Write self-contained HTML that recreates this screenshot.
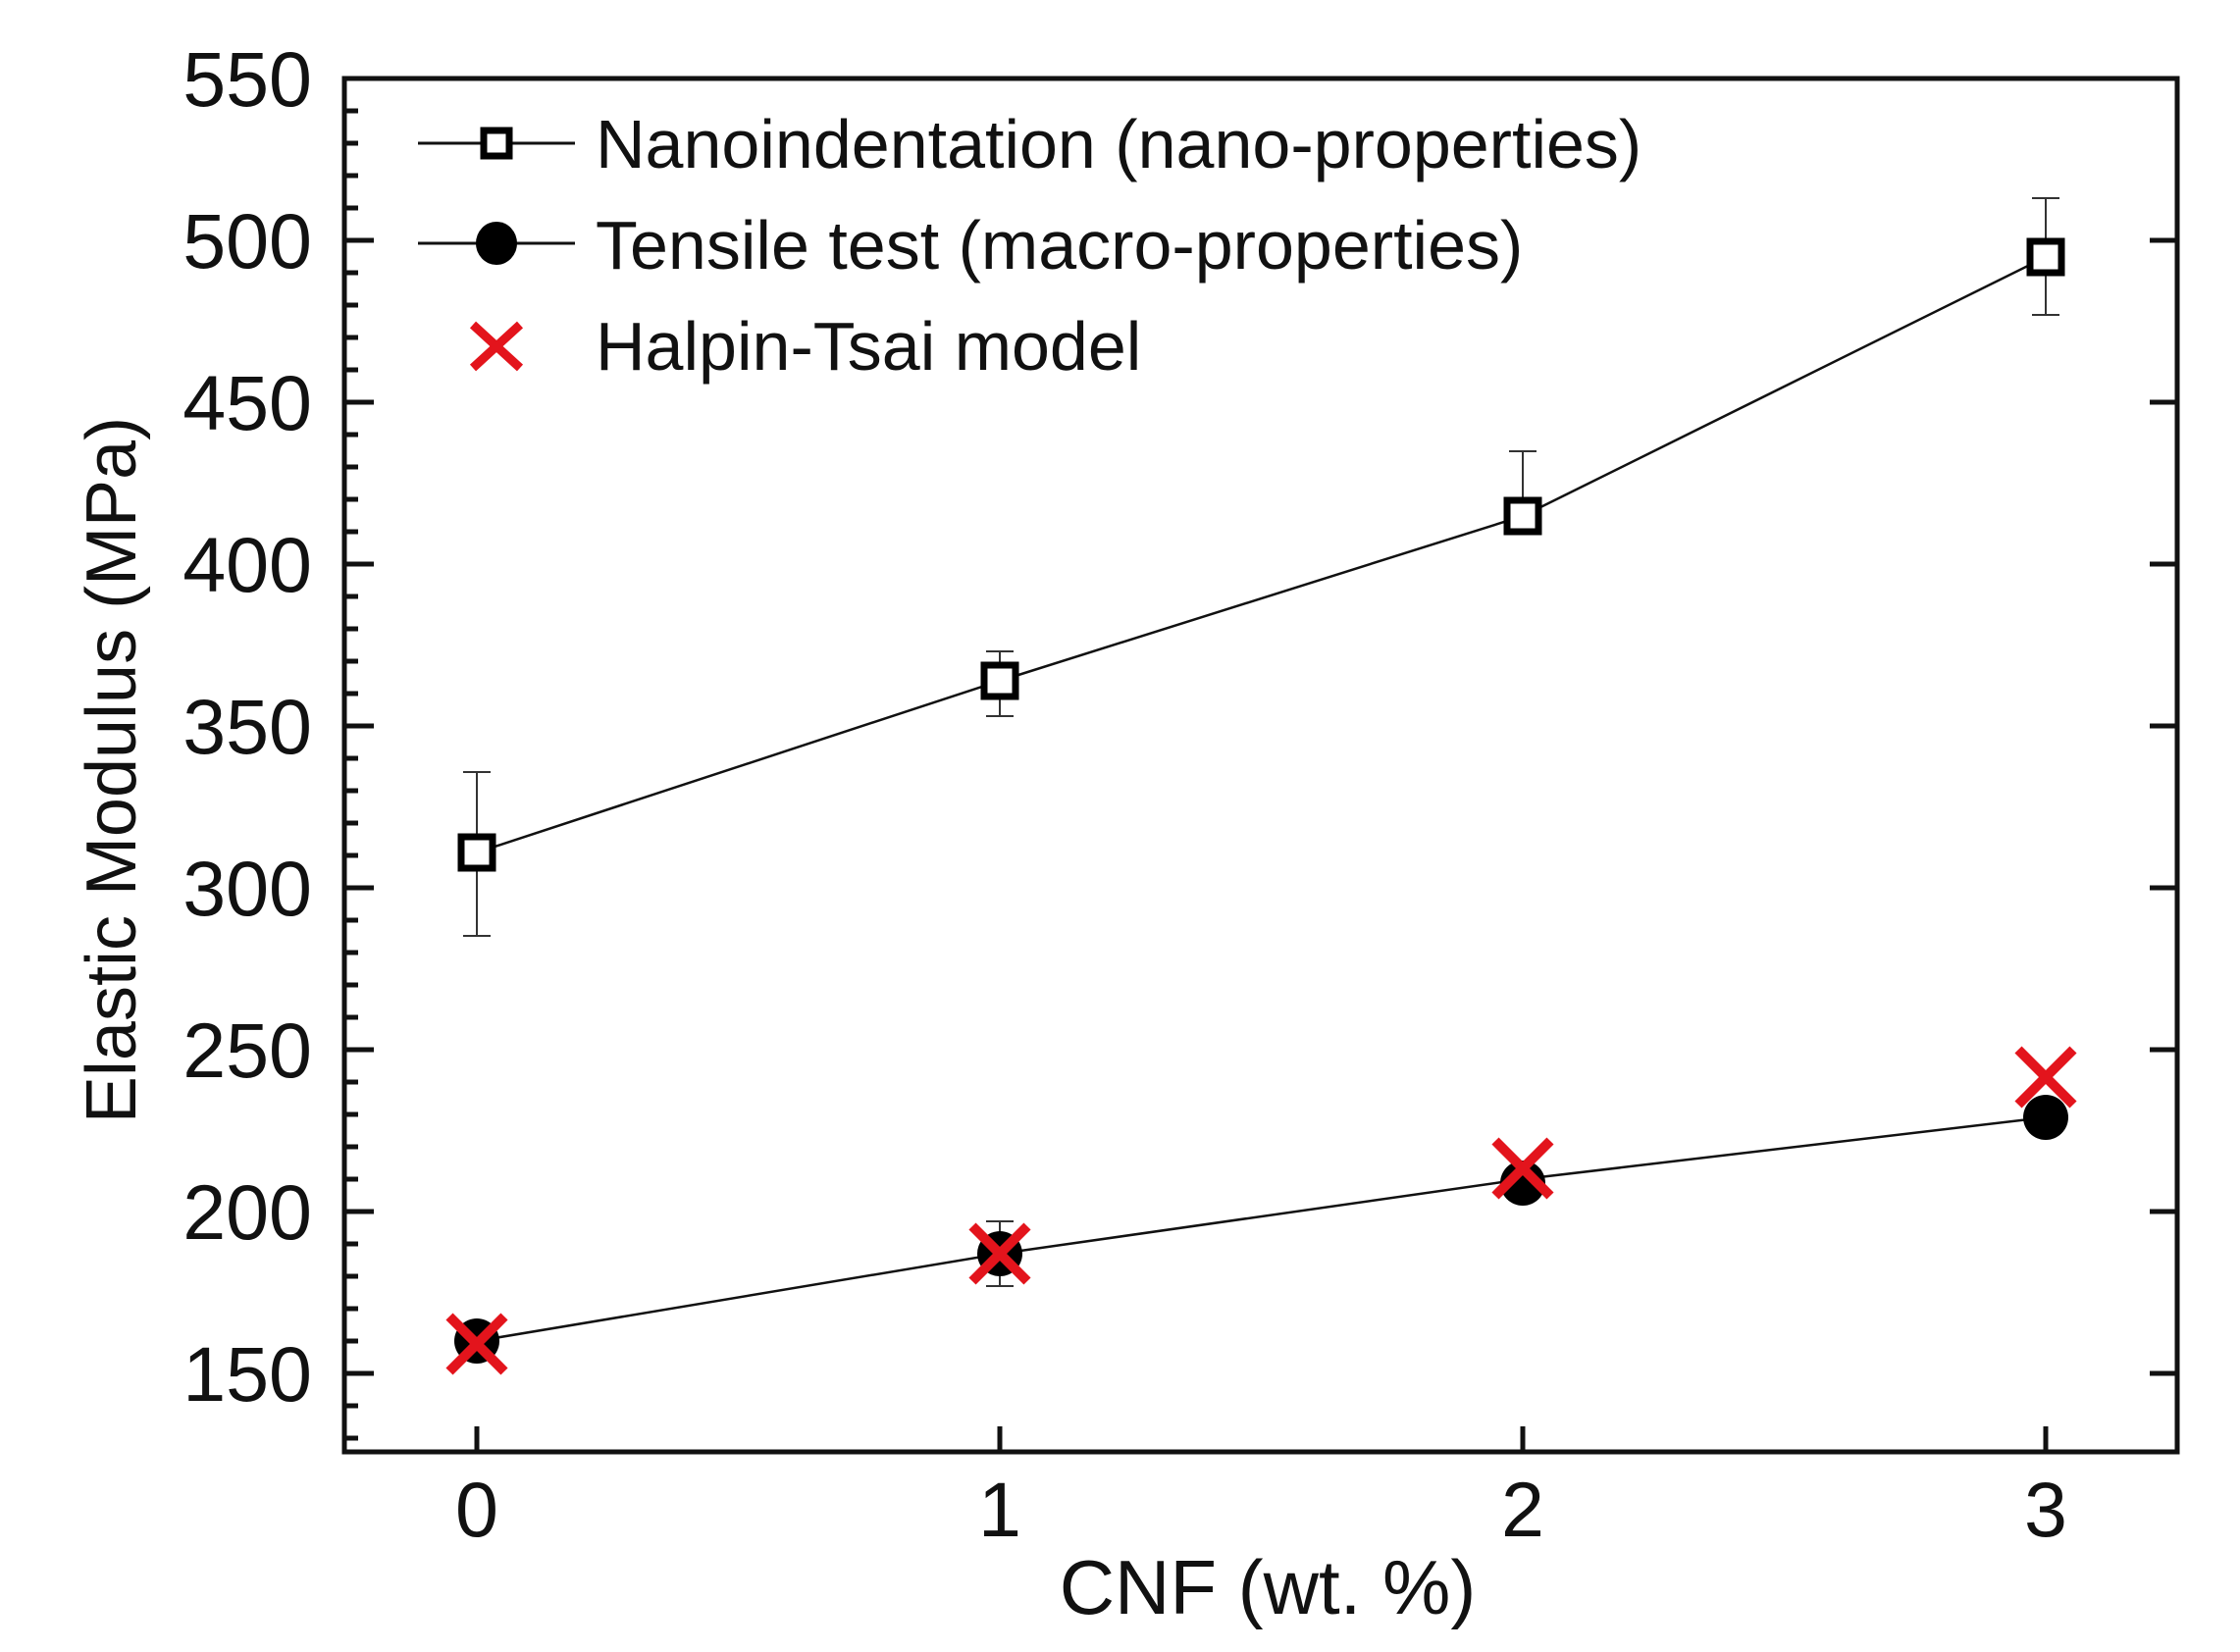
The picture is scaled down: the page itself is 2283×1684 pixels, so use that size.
<!DOCTYPE html>
<html><head><meta charset="utf-8"><style>
html,body{margin:0;padding:0;background:#fff;}
svg{display:block;}
text{font-family:"Liberation Sans",Arial,sans-serif;fill:#111;}
</style></head><body>
<svg width="2283" height="1684" viewBox="0 0 2283 1684" xmlns="http://www.w3.org/2000/svg">
<g stroke="#111" stroke-width="5" fill="none">
<rect x="351" y="80" width="1868" height="1400"/>
</g>
<g stroke="#111" stroke-width="5">
<line x1="351" y1="80" x2="381" y2="80"/>
<line x1="351" y1="245" x2="381" y2="245"/><line x1="2219" y1="245" x2="2191" y2="245"/>
<line x1="351" y1="410" x2="381" y2="410"/><line x1="2219" y1="410" x2="2191" y2="410"/>
<line x1="351" y1="575" x2="381" y2="575"/><line x1="2219" y1="575" x2="2191" y2="575"/>
<line x1="351" y1="740" x2="381" y2="740"/><line x1="2219" y1="740" x2="2191" y2="740"/>
<line x1="351" y1="905" x2="381" y2="905"/><line x1="2219" y1="905" x2="2191" y2="905"/>
<line x1="351" y1="1070" x2="381" y2="1070"/><line x1="2219" y1="1070" x2="2191" y2="1070"/>
<line x1="351" y1="1235" x2="381" y2="1235"/><line x1="2219" y1="1235" x2="2191" y2="1235"/>
<line x1="351" y1="1400" x2="381" y2="1400"/><line x1="2219" y1="1400" x2="2191" y2="1400"/>
<line x1="486" y1="1480" x2="486" y2="1454"/>
<line x1="1019" y1="1480" x2="1019" y2="1454"/>
<line x1="1552" y1="1480" x2="1552" y2="1454"/>
<line x1="2085" y1="1480" x2="2085" y2="1454"/>
</g>
<g stroke="#111" stroke-width="5">
<line x1="351" y1="113" x2="365" y2="113"/><line x1="351" y1="146" x2="365" y2="146"/><line x1="351" y1="179" x2="365" y2="179"/><line x1="351" y1="212" x2="365" y2="212"/>
<line x1="351" y1="278" x2="365" y2="278"/><line x1="351" y1="311" x2="365" y2="311"/><line x1="351" y1="344" x2="365" y2="344"/><line x1="351" y1="377" x2="365" y2="377"/>
<line x1="351" y1="443" x2="365" y2="443"/><line x1="351" y1="476" x2="365" y2="476"/><line x1="351" y1="509" x2="365" y2="509"/><line x1="351" y1="542" x2="365" y2="542"/>
<line x1="351" y1="608" x2="365" y2="608"/><line x1="351" y1="641" x2="365" y2="641"/><line x1="351" y1="674" x2="365" y2="674"/><line x1="351" y1="707" x2="365" y2="707"/>
<line x1="351" y1="773" x2="365" y2="773"/><line x1="351" y1="806" x2="365" y2="806"/><line x1="351" y1="839" x2="365" y2="839"/><line x1="351" y1="872" x2="365" y2="872"/>
<line x1="351" y1="938" x2="365" y2="938"/><line x1="351" y1="971" x2="365" y2="971"/><line x1="351" y1="1004" x2="365" y2="1004"/><line x1="351" y1="1037" x2="365" y2="1037"/>
<line x1="351" y1="1103" x2="365" y2="1103"/><line x1="351" y1="1136" x2="365" y2="1136"/><line x1="351" y1="1169" x2="365" y2="1169"/><line x1="351" y1="1202" x2="365" y2="1202"/>
<line x1="351" y1="1268" x2="365" y2="1268"/><line x1="351" y1="1301" x2="365" y2="1301"/><line x1="351" y1="1334" x2="365" y2="1334"/><line x1="351" y1="1367" x2="365" y2="1367"/>
<line x1="351" y1="1433" x2="365" y2="1433"/><line x1="351" y1="1466" x2="365" y2="1466"/>
</g>
<g font-size="79" text-anchor="end">
<text x="318" y="108">550</text>
<text x="318" y="273">500</text>
<text x="318" y="438">450</text>
<text x="318" y="603">400</text>
<text x="318" y="768">350</text>
<text x="318" y="933">300</text>
<text x="318" y="1098">250</text>
<text x="318" y="1263">200</text>
<text x="318" y="1428">150</text>
</g>
<g font-size="79" text-anchor="middle">
<text x="486" y="1566">0</text>
<text x="1019" y="1566">1</text>
<text x="1552" y="1566">2</text>
<text x="2085" y="1566">3</text>
<text x="1292" y="1645" font-size="78">CNF (wt. %)</text>
<text transform="translate(138,785) rotate(-90)" font-size="72">Elastic Modulus (MPa)</text>
</g>
<g stroke="#333" stroke-width="2">
<line x1="486" y1="787" x2="486" y2="954"/><line x1="472" y1="787" x2="500" y2="787"/><line x1="472" y1="954" x2="500" y2="954"/>
<line x1="1019" y1="664" x2="1019" y2="730"/><line x1="1005" y1="664" x2="1033" y2="664"/><line x1="1005" y1="730" x2="1033" y2="730"/>
<line x1="1552" y1="460" x2="1552" y2="529"/><line x1="1538" y1="460" x2="1566" y2="460"/><line x1="1538" y1="529" x2="1566" y2="529"/>
<line x1="2085" y1="202" x2="2085" y2="321"/><line x1="2071" y1="202" x2="2099" y2="202"/><line x1="2071" y1="321" x2="2099" y2="321"/>
<line x1="1019" y1="1245" x2="1019" y2="1311"/><line x1="1005" y1="1245" x2="1033" y2="1245"/><line x1="1005" y1="1311" x2="1033" y2="1311"/>
</g>
<polyline points="486,869 1019,694 1552,526 2085,262" fill="none" stroke="#111" stroke-width="2.5"/>
<polyline points="486,1367 1019,1278 1552,1202 2085,1139" fill="none" stroke="#111" stroke-width="2.5"/>
<g fill="#fff" stroke="#000" stroke-width="7">
<rect x="470" y="853" width="32" height="32"/>
<rect x="1003" y="678" width="32" height="32"/>
<rect x="1536" y="510" width="32" height="32"/>
<rect x="2069" y="246" width="32" height="32"/>
</g>
<g fill="#000">
<circle cx="486" cy="1367" r="23"/>
<circle cx="1019" cy="1278" r="23"/>
<circle cx="1552" cy="1206" r="23"/>
<circle cx="2085" cy="1139" r="23"/>
</g>
<g stroke="#e3141c" stroke-width="10">
<path d="M458,1342 L514,1398 M514,1342 L458,1398"/>
<path d="M991,1250 L1047,1306 M1047,1250 L991,1306"/>
<path d="M1524,1163 L1580,1219 M1580,1163 L1524,1219"/>
<path d="M2057,1070 L2113,1126 M2113,1070 L2057,1126"/>
</g>
<g stroke="#111" stroke-width="3">
<line x1="426" y1="146" x2="586" y2="146"/>
<line x1="426" y1="248" x2="586" y2="248"/>
</g>
<rect x="493" y="133" width="26" height="26" fill="#fff" stroke="#000" stroke-width="7"/>
<ellipse cx="506" cy="248" rx="21" ry="22" fill="#000"/>
<path d="M482,331 L530,375 M530,331 L482,375" stroke="#e3141c" stroke-width="9"/>
<g font-size="70">
<text x="607" y="171">Nanoindentation (nano-properties)</text>
<text x="607" y="274">Tensile test (macro-properties)</text>
<text x="607" y="377">Halpin-Tsai model</text>
</g>
</svg>
</body></html>
